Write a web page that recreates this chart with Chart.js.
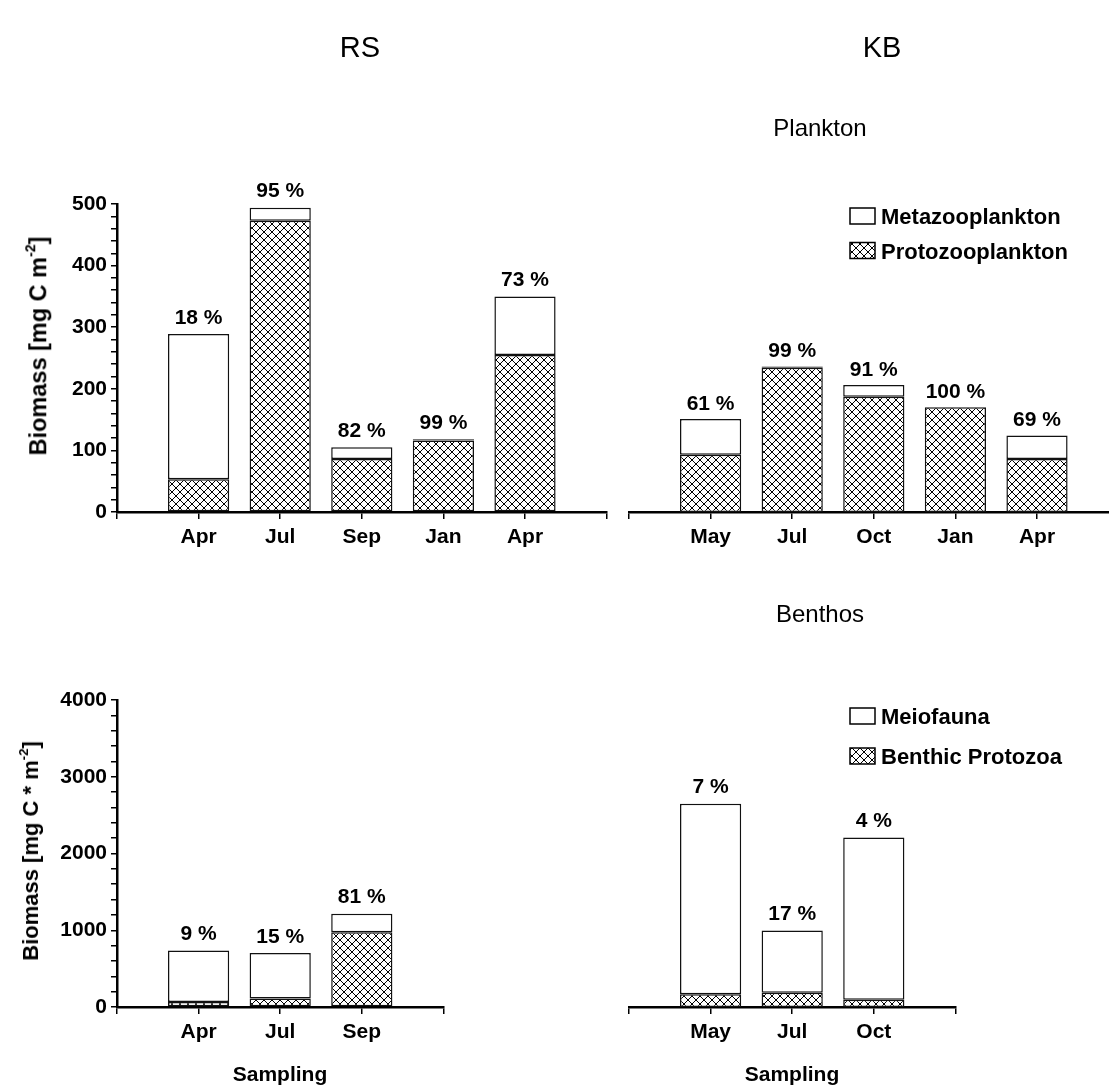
<!DOCTYPE html>
<html><head><meta charset="utf-8">
<script src="https://cdn.jsdelivr.net/npm/chart.js@4.4.1/dist/chart.umd.min.js"></script>
<style>
html,body{margin:0;padding:0;width:1109px;height:1086px;overflow:hidden;background:#fff;}
canvas{position:absolute;left:0;top:0;}
.t{position:absolute;transform:translate(-50%,-50%);font-family:'Liberation Sans',Arial,sans-serif;color:#000;white-space:nowrap;line-height:1;z-index:5;}
.ttl{font-size:29px;}
.sub{font-size:24px;}
.ax{font-size:21px;font-weight:bold;}
.yt{font-weight:bold;transform:translate(-50%,-50%) rotate(-90deg);}
.yt sup{font-size:0.6em;vertical-align:0.75em;line-height:0;}
</style></head><body>
<div class="t ttl" style="left:360px;top:47px">RS</div>
<div class="t ttl" style="left:882px;top:47px">KB</div>
<div class="t sub" style="left:820px;top:128px">Plankton</div>
<div class="t sub" style="left:820px;top:614px">Benthos</div>
<div class="t ax" style="left:280px;top:1073px">Sampling</div>
<div class="t ax" style="left:792px;top:1073px">Sampling</div>
<div class="t yt" style="left:39px;top:346px;font-size:23.5px">Biomass [mg C m<sup>-2</sup>]</div>
<div class="t yt" style="left:31px;top:851px;font-size:22px">Biomass [mg C * m<sup>-2</sup>]</div>
<canvas id="c1" width="1130" height="1086"></canvas>
<canvas id="c2" width="1130" height="1086"></canvas>
<canvas id="c3" width="1130" height="1086"></canvas>
<canvas id="c4" width="1130" height="1086"></canvas>
<script>
// ---- data ----
const planktonRSMonths = ['Apr','Jul','Sep','Jan','Apr'];
const planktonRSProto  = [53, 473, 86, 116, 255];
const planktonRSMeta   = [236, 21, 19, 2, 95];
const planktonRSPct    = ['18 %','95 %','82 %','99 %','73 %'];

const planktonKBMonths = ['May','Jul','Oct','Jan','Apr'];
const planktonKBProto  = [93, 234, 187, 170, 86];
const planktonKBMeta   = [58, 2, 19, 0, 38];
const planktonKBPct    = ['61 %','99 %','91 %','100 %','69 %'];

const benthosRSMonths = ['Apr','Jul','Sep'];
const benthosRSProto  = [66, 110, 975];
const benthosRSMeio   = [669, 595, 241];
const benthosRSPct    = ['9 %','15 %','81 %'];

const benthosKBMonths = ['May','Jul','Oct'];
const benthosKBProto  = [165, 185, 96];
const benthosKBMeio   = [2484, 811, 2112];
const benthosKBPct    = ['7 %','17 %','4 %'];

const planktonYMax = 500, planktonYMinor = 20, planktonYMajor = 100;
const benthosYMax = 4000, benthosYMinor = 200, benthosYMajor = 1000;

// ---- drawing ----
const FONT = "'Liberation Sans', Arial, sans-serif";
const W = 1130, H = 1086, YW = 60, XH = 50;

function hatch(ctx){
  const s = 8;
  const t = document.createElement('canvas'); t.width = s; t.height = s;
  const c = t.getContext('2d');
  c.fillStyle = '#fff'; c.fillRect(0,0,s,s);
  c.strokeStyle = '#000'; c.lineWidth = 1;
  c.beginPath();
  c.moveTo(-1,-1); c.lineTo(s+1,s+1);
  c.moveTo(s+1,-1); c.lineTo(-1,s+1);
  c.stroke();
  return ctx.createPattern(t,'repeat');
}

const pctPlugin = {
  id:'pctLabels',
  afterDatasetsDraw(chart, args, opts){
    const ctx = chart.ctx; const n = chart.data.datasets.length;
    const meta = chart.getDatasetMeta(n-1);
    ctx.save();
    ctx.font = 'bold 21px ' + FONT; ctx.fillStyle = '#000';
    ctx.textAlign = 'center'; ctx.textBaseline = 'middle';
    meta.data.forEach((el,i)=>{ ctx.fillText(opts.labels[i], el.x, el.y - opts.gap); });
    ctx.restore();
  }
};
const legendPlugin = {
  id:'boxLegend',
  afterDraw(chart, args, opts){
    if(!opts || !opts.show) return;
    const ctx = chart.ctx; const ds = chart.data.datasets;
    const order = [ds.length-1, 0];
    ctx.save();
    order.forEach((di,k)=>{
      const y = opts.y + k*opts.gap;
      ctx.fillStyle = ds[di].backgroundColor; ctx.fillRect(opts.x, y, opts.w, opts.h);
      ctx.strokeStyle = '#000'; ctx.lineWidth = 1.5; ctx.strokeRect(opts.x, y, opts.w, opts.h);
      ctx.fillStyle = '#000'; ctx.font = 'bold 22px ' + FONT;
      ctx.textAlign = 'left'; ctx.textBaseline = 'middle';
      ctx.fillText(ds[di].label, opts.x + opts.w + 6, y + opts.h/2 + 2);
    });
    ctx.restore();
  }
};

function makeChart(id, c){
  const canvas = document.getElementById(id);
  const ctx = canvas.getContext('2d');
  const pat = hatch(ctx);
  const a = c.area;
  const pad = {
    left: c.showY ? a.left - YW : a.left,
    right: W - a.right,
    top: a.top,
    bottom: H - a.bottom - XH
  };
  const common = {borderColor:'#111', borderWidth:1.5, borderSkipped:false, barPercentage:0.75, categoryPercentage:1};
  return new Chart(ctx, {
    type:'bar',
    data:{datasets:[
      Object.assign({label:c.lowerLabel, data:c.lower.map((v,i)=>({x:i+1,y:v})), backgroundColor:pat}, common),
      Object.assign({label:c.upperLabel, data:c.upper.map((v,i)=>({x:i+1,y:v})), backgroundColor:'#fff'}, common)
    ]},
    options:{
      responsive:false, animation:false, devicePixelRatio:1,
      layout:{padding:pad},
      plugins:{legend:{display:false}, tooltip:{enabled:false},
        pctLabels:{labels:c.pct, gap:c.gap},
        boxLegend:c.legend || {show:false}},
      scales:{
        x:{type:'linear', min:0, max:c.slots, offset:false, stacked:true,
          afterFit:s=>{s.height = XH;},
          ticks:{stepSize:1, autoSkip:false, maxRotation:0, padding:6, color:'#000',
            font:{family:FONT, size:21, weight:'bold'},
            callback:v=> c.months[v-1] || ''},
          grid:{display:true, offset:false, drawOnChartArea:false, drawTicks:true, tickLength:7, color:'#000', lineWidth:1.5},
          border:{display:true, color:'#000', width:2.5}},
        y:{display:c.showY, min:0, max:c.yMax, stacked:true,
          afterFit:s=>{s.width = c.showY ? YW : 0;},
          ticks:{stepSize:c.yMinor, autoSkip:false, padding:4, color:'#000',
            font:{family:FONT, size:21, weight:'bold'},
            callback:v=> (v % c.yMajor === 0) ? v : ''},
          grid:{drawOnChartArea:false, drawTicks:true, tickLength:6, color:'#000', lineWidth:1.5},
          border:{display:true, color:'#000', width:2.5}}
      }
    },
    plugins:[pctPlugin, legendPlugin]
  });
}

const SLOT = 81.6;
makeChart('c1', {months:planktonRSMonths, lower:planktonRSProto, upper:planktonRSMeta, pct:planktonRSPct,
  lowerLabel:'Protozooplankton', upperLabel:'Metazooplankton', yMax:planktonYMax, yMinor:planktonYMinor, yMajor:planktonYMajor,
  slots:6, showY:true, gap:16, area:{left:117, right:117+6*SLOT, top:204, bottom:512}});
makeChart('c2', {months:planktonKBMonths, lower:planktonKBProto, upper:planktonKBMeta, pct:planktonKBPct,
  lowerLabel:'Protozooplankton', upperLabel:'Metazooplankton', yMax:planktonYMax, yMinor:planktonYMinor, yMajor:planktonYMajor,
  slots:6, showY:false, gap:15, area:{left:629, right:629+6*SLOT, top:204, bottom:512},
  legend:{show:true, x:850, y:208, w:25, h:16, gap:34.5}});
makeChart('c3', {months:benthosRSMonths, lower:benthosRSProto, upper:benthosRSMeio, pct:benthosRSPct,
  lowerLabel:'Benthic Protozoa', upperLabel:'Meiofauna', yMax:benthosYMax, yMinor:benthosYMinor, yMajor:benthosYMajor,
  slots:4, showY:true, gap:16, area:{left:117, right:117+4*SLOT, top:700, bottom:1007}});
makeChart('c4', {months:benthosKBMonths, lower:benthosKBProto, upper:benthosKBMeio, pct:benthosKBPct,
  lowerLabel:'Benthic Protozoa', upperLabel:'Meiofauna', yMax:benthosYMax, yMinor:benthosYMinor, yMajor:benthosYMajor,
  slots:4, showY:false, gap:16, area:{left:629, right:629+4*SLOT, top:700, bottom:1007},
  legend:{show:true, x:850, y:708, w:25, h:16, gap:40}});
</script>
</body></html>
